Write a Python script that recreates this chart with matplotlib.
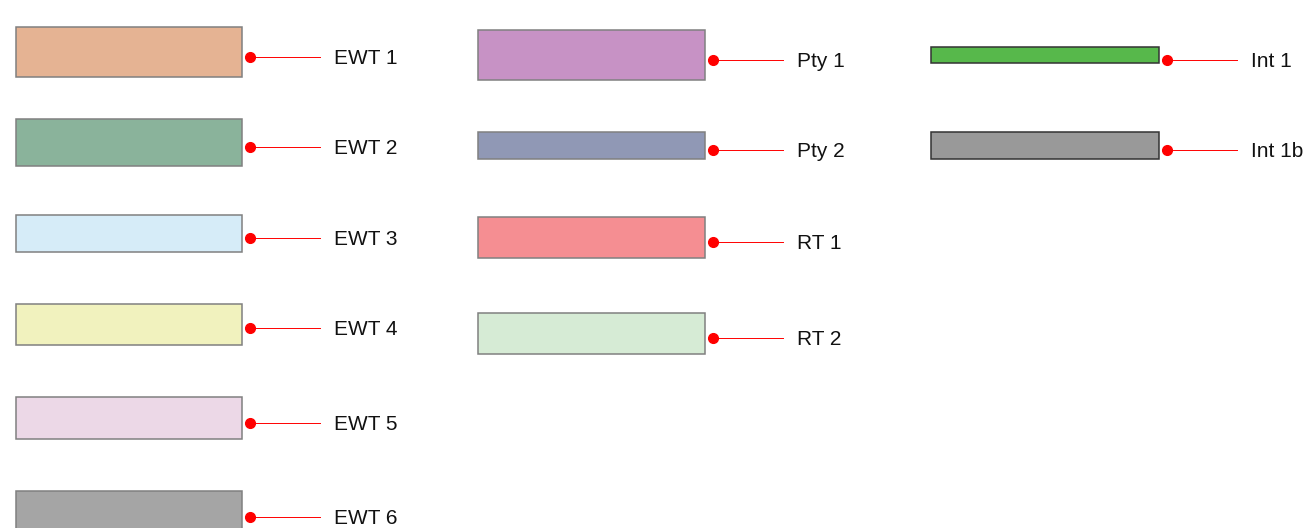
import matplotlib
matplotlib.use('Agg')
import matplotlib.pyplot as plt

# ── Legend items (pixel layout of a 1308x528 canvas) ─────────────────────────
labels   = ["EWT 1", "EWT 2", "EWT 3", "EWT 4", "EWT 5", "EWT 6",
            "Pty 1", "Pty 2", "RT 1", "RT 2",
            "Int 1", "Int 1b"]
colours  = ["#E5B393", "#8AB39B", "#D6ECF8", "#F1F2BE", "#ECD8E7", "#A5A5A5",
            "#C792C5", "#9098B5", "#F58E92", "#D6EBD5",
            "#57B84B", "#999999"]
edges    = ["#808080"] * 10 + ["#333333", "#333333"]
col_left = [16] * 6 + [478] * 4 + [931] * 2
col_wid  = [226] * 6 + [227] * 4 + [228] * 2
box_top  = [27, 119, 215, 304, 397, 491, 30, 132, 217, 313, 47, 132]
box_bot  = [77, 166, 252, 345, 439, 540, 80, 159, 258, 354, 63, 159]
dot_y    = [57, 147, 238, 328, 423, 517, 60, 150, 242, 338, 60, 150]
dot_gap  = 8      # dot sits just right of the box
line_len = 70
text_gap = 14

fig = plt.figure(figsize=(13.08, 5.28), dpi=100)
ax = fig.add_axes([0, 0, 1, 1])
ax.set_xlim(0, 1308)
ax.set_ylim(528, 0)
ax.axis('off')

for i, lab in enumerate(labels):
    ax.bar(col_left[i], box_bot[i] - box_top[i], width=col_wid[i],
           bottom=box_top[i], align='edge', color=colours[i],
           edgecolor=edges[i], linewidth=1.1, zorder=2)
    x0 = col_left[i] + col_wid[i] + dot_gap
    ax.plot([x0, x0 + line_len], [dot_y[i], dot_y[i]],
            color='red', linewidth=0.7, zorder=3)
    ax.plot(x0, dot_y[i], 'o', color='red', markersize=7, zorder=4)
    ax.text(x0 + line_len + text_gap, dot_y[i] + 1.5, lab,
            ha='left', va='center', fontsize=15,
            family='Liberation Sans', color='#111111')

plt.savefig("out.png", dpi=100)
plt.close()
